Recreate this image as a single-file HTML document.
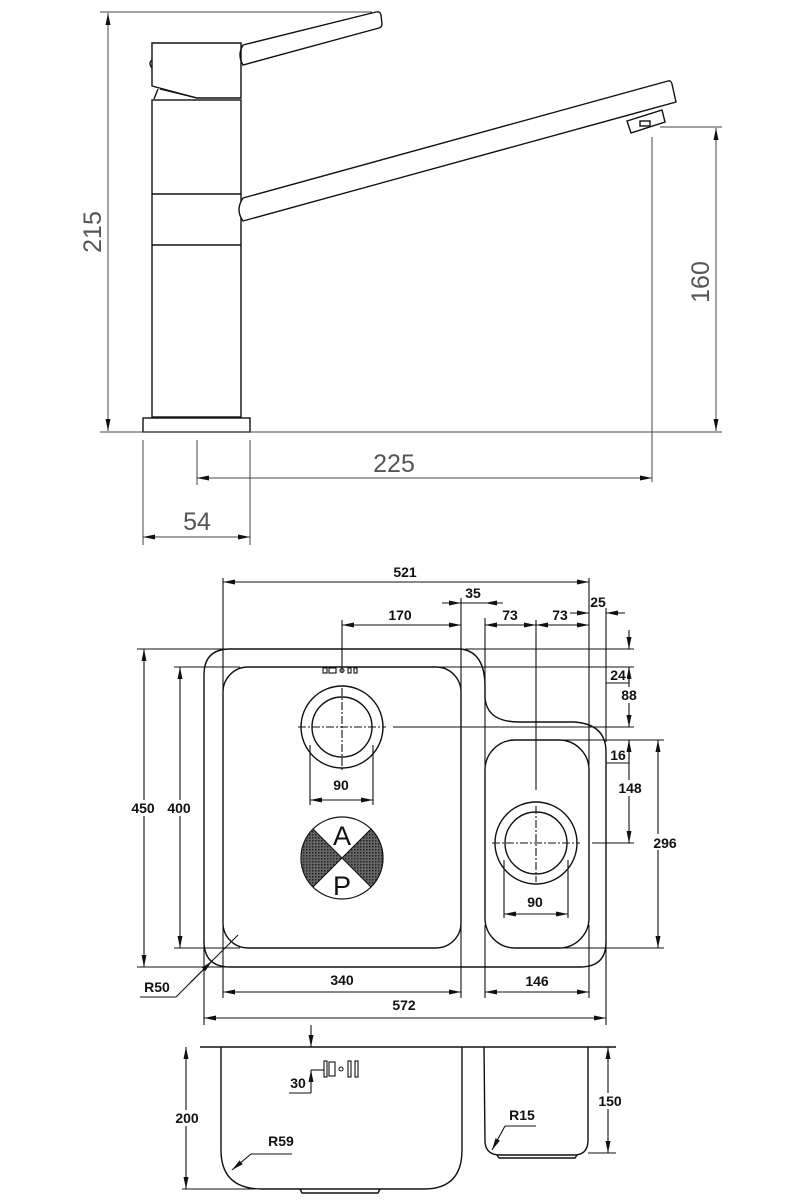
<!DOCTYPE html>
<html><head><meta charset="utf-8"><style>
html,body{margin:0;padding:0;background:#fff}
svg{display:block}
.l{fill:none;stroke:#111;stroke-width:1.4}
.d{fill:none;stroke:#111;stroke-width:1.1}
.g{fill:none;stroke:#444;stroke-width:1}
.t{font-family:"Liberation Sans",sans-serif;font-weight:bold;font-size:14px;fill:#111;text-anchor:middle}
.ft{font-family:"Liberation Sans",sans-serif;font-size:25px;fill:#555;text-anchor:middle}
</style></head><body>
<svg width="800" height="1200" viewBox="0 0 800 1200" xmlns="http://www.w3.org/2000/svg">
<defs>
<marker id="a" viewBox="0 0 12 6" refX="12" refY="3" markerWidth="12" markerHeight="6" markerUnits="userSpaceOnUse" orient="auto-start-reverse"><path d="M0,0.5 L12,3 L0,5.5z" fill="#111"/></marker>
<pattern id="h" width="3" height="3" patternUnits="userSpaceOnUse"><rect width="3" height="3" fill="#666"/><rect width="1.5" height="1.5" fill="#222"/></pattern>
</defs>

<!-- FAUCET -->
<g class="l">
<path d="M243,45 L376,12 Q380,11 381,15 L382,24 Q382,27 379,28 L243,65 Q237,55 243,45Z" fill="#fff"/>
<path d="M152,43 L241,43 L241,98 L197,98 L152,86 Z"/>
<path d="M152,60 Q148,63 152,68"/>
<path d="M158,89 L154,99 M197,98 L160,89"/>
<rect x="152" y="100" width="89" height="317"/>
<line x1="152" y1="194" x2="241" y2="194"/>
<line x1="152" y1="245" x2="241" y2="245"/>
<rect x="143" y="418" width="107" height="14"/>
<path d="M243,198 L668,81 Q671,80 672,84 L676,102 L243,221 Q235,210 243,198Z" fill="#fff"/>
<path d="M627,121 L662,110 L665,122 L631,133 Z"/>
<rect x="640" y="121" width="10" height="5"/>
</g>
<g class="g">
<line x1="100" y1="12" x2="372" y2="12"/>
<line x1="108" y1="13" x2="108" y2="431" marker-start="url(#a)" marker-end="url(#a)"/>
<line x1="100" y1="432" x2="722" y2="432"/>
<line x1="660" y1="127" x2="722" y2="127"/>
<line x1="716" y1="128" x2="716" y2="431" marker-start="url(#a)" marker-end="url(#a)"/>
<line x1="652" y1="137" x2="652" y2="482"/>
<line x1="197" y1="440" x2="197" y2="485"/>
<line x1="197" y1="478" x2="652" y2="478" marker-start="url(#a)" marker-end="url(#a)"/>
<line x1="143" y1="440" x2="143" y2="545"/>
<line x1="250" y1="440" x2="250" y2="545"/>
<line x1="143" y1="537" x2="250" y2="537" marker-start="url(#a)" marker-end="url(#a)"/>
</g>
<text class="ft" x="0" y="0" transform="translate(101,232) rotate(-90)">215</text>
<text class="ft" x="0" y="0" transform="translate(709,282) rotate(-90)">160</text>
<text class="ft" x="394" y="472">225</text>
<text class="ft" x="197" y="530">54</text>

<!-- SINK PLAN -->
<g class="l">
<path d="M230,649 L461,649 Q485,652 485,687 L485,698 Q487,722 519,722 L574,722 Q606,724 606,752 L606,942 Q606,967 580,967 L230,967 Q204,967 204,941 L204,675 Q204,649 230,649 Z"/>
<rect x="223" y="667" width="238" height="281" rx="25"/>
<rect x="485" y="740" width="104" height="208" rx="30"/>
<circle cx="342" cy="727" r="41"/><circle cx="342" cy="727" r="30"/>
<circle cx="536" cy="843" r="41"/><circle cx="536" cy="843" r="31"/>
</g>
<g class="d" stroke-dasharray="8,2,2,2">
<line x1="298" y1="727" x2="386" y2="727"/><line x1="342" y1="688" x2="342" y2="770"/>
<line x1="492" y1="843" x2="580" y2="843"/><line x1="536" y1="806" x2="536" y2="882"/>
</g>
<!-- AP logo -->
<g>
<circle cx="342" cy="858" r="41" fill="#fff" stroke="#111" stroke-width="1.2"/>
<path d="M342,858 L313,829 A41,41 0 0,0 313,887 Z" fill="url(#h)" stroke="#111"/>
<path d="M342,858 L371,829 A41,41 0 0,1 371,887 Z" fill="url(#h)" stroke="#111"/>
<text x="342" y="845" font-family="Liberation Sans,sans-serif" font-size="27" text-anchor="middle" fill="#111">A</text>
<text x="342" y="895" font-family="Liberation Sans,sans-serif" font-size="27" text-anchor="middle" fill="#111">P</text>
</g>
<!-- overflow -->
<g class="d"><rect x="323" y="668" width="4" height="5"/><rect x="329" y="668" width="7" height="5"/><circle cx="342" cy="670.5" r="2"/><rect x="348" y="668" width="3" height="5"/><rect x="354" y="668" width="3" height="5"/></g>

<g class="d">
<!-- extension lines -->
<line x1="223" y1="578" x2="223" y2="690"/><line x1="223" y1="925" x2="223" y2="998"/>
<line x1="461" y1="598" x2="461" y2="690"/><line x1="461" y1="925" x2="461" y2="998"/>
<line x1="485" y1="618" x2="485" y2="765"/><line x1="485" y1="925" x2="485" y2="998"/>
<line x1="589" y1="578" x2="589" y2="765"/><line x1="589" y1="925" x2="589" y2="998"/>
<line x1="606" y1="608" x2="606" y2="742"/><line x1="606" y1="940" x2="606" y2="1025"/>
<line x1="204" y1="940" x2="204" y2="1025"/>
<line x1="536" y1="620" x2="536" y2="790"/>
<line x1="342" y1="620" x2="342" y2="672"/>
<line x1="310" y1="745" x2="310" y2="805"/><line x1="373" y1="745" x2="373" y2="805"/>
<line x1="504" y1="860" x2="504" y2="918"/><line x1="568" y1="860" x2="568" y2="918"/>
<line x1="465" y1="649" x2="634" y2="649"/>
<line x1="433" y1="667" x2="634" y2="667"/>
<line x1="393" y1="727" x2="634" y2="727"/>
<line x1="564" y1="740" x2="664" y2="740"/>
<line x1="592" y1="843" x2="634" y2="843"/>
<line x1="564" y1="948" x2="664" y2="948"/>
<line x1="137" y1="649" x2="228" y2="649"/>
<line x1="174" y1="667" x2="240" y2="667"/>
<line x1="174" y1="948" x2="240" y2="948"/>
<line x1="137" y1="967" x2="228" y2="967"/>
<line x1="606" y1="683" x2="629" y2="683"/>
<line x1="606" y1="763" x2="629" y2="763"/>
<!-- dimensions -->
<line x1="223" y1="582" x2="589" y2="582" marker-start="url(#a)" marker-end="url(#a)"/>
<line x1="442" y1="603" x2="461" y2="603" marker-end="url(#a)"/>
<line x1="503" y1="603" x2="485" y2="603" marker-end="url(#a)"/>
<line x1="461" y1="603" x2="485" y2="603"/>
<line x1="342" y1="625" x2="461" y2="625" marker-start="url(#a)" marker-end="url(#a)"/>
<line x1="485" y1="625" x2="536" y2="625" marker-start="url(#a)" marker-end="url(#a)"/>
<line x1="536" y1="625" x2="589" y2="625" marker-start="url(#a)" marker-end="url(#a)"/>
<line x1="570" y1="613" x2="589" y2="613" marker-end="url(#a)"/>
<line x1="625" y1="613" x2="606" y2="613" marker-end="url(#a)"/>
<line x1="629" y1="630" x2="629" y2="649" marker-end="url(#a)"/>
<line x1="629" y1="683" x2="629" y2="667" marker-end="url(#a)"/>
<line x1="629" y1="667" x2="629" y2="727" marker-end="url(#a)"/>
<line x1="629" y1="763" x2="629" y2="740" marker-end="url(#a)"/>
<line x1="629" y1="740" x2="629" y2="843" marker-end="url(#a)"/>
<line x1="658" y1="740" x2="658" y2="948" marker-start="url(#a)" marker-end="url(#a)"/>
<line x1="144" y1="649" x2="144" y2="967" marker-start="url(#a)" marker-end="url(#a)"/>
<line x1="180" y1="667" x2="180" y2="948" marker-start="url(#a)" marker-end="url(#a)"/>
<line x1="310" y1="800" x2="373" y2="800" marker-start="url(#a)" marker-end="url(#a)"/>
<line x1="504" y1="914" x2="568" y2="914" marker-start="url(#a)" marker-end="url(#a)"/>
<line x1="223" y1="992" x2="461" y2="992" marker-start="url(#a)" marker-end="url(#a)"/>
<line x1="485" y1="992" x2="589" y2="992" marker-start="url(#a)" marker-end="url(#a)"/>
<line x1="204" y1="1018" x2="606" y2="1018" marker-start="url(#a)" marker-end="url(#a)"/>
<line x1="140" y1="997" x2="176" y2="997"/>
<line x1="176" y1="997" x2="238" y2="935"/>
<line x1="190" y1="983" x2="212" y2="961" marker-end="url(#a)"/>
</g>
<g class="t">
<text x="405" y="577">521</text>
<text x="473" y="598">35</text>
<text x="400" y="620">170</text>
<text x="510" y="620">73</text>
<text x="560" y="620">73</text>
<text x="598" y="607">25</text>
<rect x="609" y="668" width="18" height="14" fill="#fff" stroke="none"/>
<text x="618" y="680">24</text>
<rect x="620" y="687" width="20" height="16" fill="#fff" stroke="none"/>
<text x="629" y="700">88</text>
<text x="618" y="760">16</text>
<rect x="614" y="780" width="32" height="16" fill="#fff" stroke="none"/>
<text x="630" y="793">148</text>
<rect x="650" y="834" width="30" height="16" fill="#fff" stroke="none"/>
<text x="665" y="848">296</text>
<rect x="130" y="800" width="30" height="16" fill="#fff" stroke="none"/>
<text x="143" y="813">450</text>
<rect x="166" y="800" width="30" height="16" fill="#fff" stroke="none"/>
<text x="179" y="813">400</text>
<text x="341" y="790">90</text>
<text x="535" y="907">90</text>
<text x="342" y="985">340</text>
<text x="537" y="986">146</text>
<text x="404" y="1010">572</text>
<text x="157" y="992">R50</text>
</g>

<!-- SIDE ELEVATION -->
<g class="l">
<line x1="200" y1="1047" x2="616" y2="1047"/>
<path d="M221,1047 L221,1150 Q221,1189 262,1189 L424,1189 Q462,1189 462,1150 L462,1047"/>
<path d="M300,1189 L302,1193 L378,1193 L380,1189"/>
<path d="M484,1047 L485,1142 Q486,1155 500,1155 L574,1155 Q588,1155 588,1140 L588,1047"/>
<path d="M497,1155 L499,1158 L575,1158 L577,1155"/>
</g>
<g class="d">
<line x1="182" y1="1189" x2="255" y2="1189"/>
<line x1="186" y1="1047" x2="186" y2="1189" marker-start="url(#a)" marker-end="url(#a)"/>
<line x1="588" y1="1153" x2="616" y2="1153"/>
<line x1="608" y1="1047" x2="608" y2="1153" marker-start="url(#a)" marker-end="url(#a)"/>
<line x1="311" y1="1025" x2="311" y2="1047" marker-end="url(#a)"/>
<line x1="311" y1="1093" x2="311" y2="1070" marker-end="url(#a)"/>
<line x1="289" y1="1093" x2="311" y2="1093"/>
<line x1="311" y1="1070" x2="324" y2="1070"/>
<rect x="324" y="1061" width="3" height="16"/><rect x="329" y="1062" width="6" height="14"/>
<circle cx="341" cy="1069" r="2"/><rect x="348" y="1061" width="3" height="16"/><rect x="355" y="1061" width="3" height="16"/>
<line x1="251" y1="1154" x2="292" y2="1154"/>
<line x1="251" y1="1154" x2="232" y2="1170" marker-end="url(#a)"/>
<line x1="505" y1="1126" x2="536" y2="1126"/>
<line x1="505" y1="1126" x2="492" y2="1150" marker-end="url(#a)"/>
</g>
<g class="t">
<rect x="171" y="1110" width="32" height="16" fill="#fff" stroke="none"/>
<text x="187" y="1123">200</text>
<rect x="594" y="1093" width="32" height="16" fill="#fff" stroke="none"/>
<text x="610" y="1106">150</text>
<text x="298" y="1088">30</text>
<text x="281" y="1146">R59</text>
<text x="522" y="1120">R15</text>
</g>
</svg>
</body></html>
